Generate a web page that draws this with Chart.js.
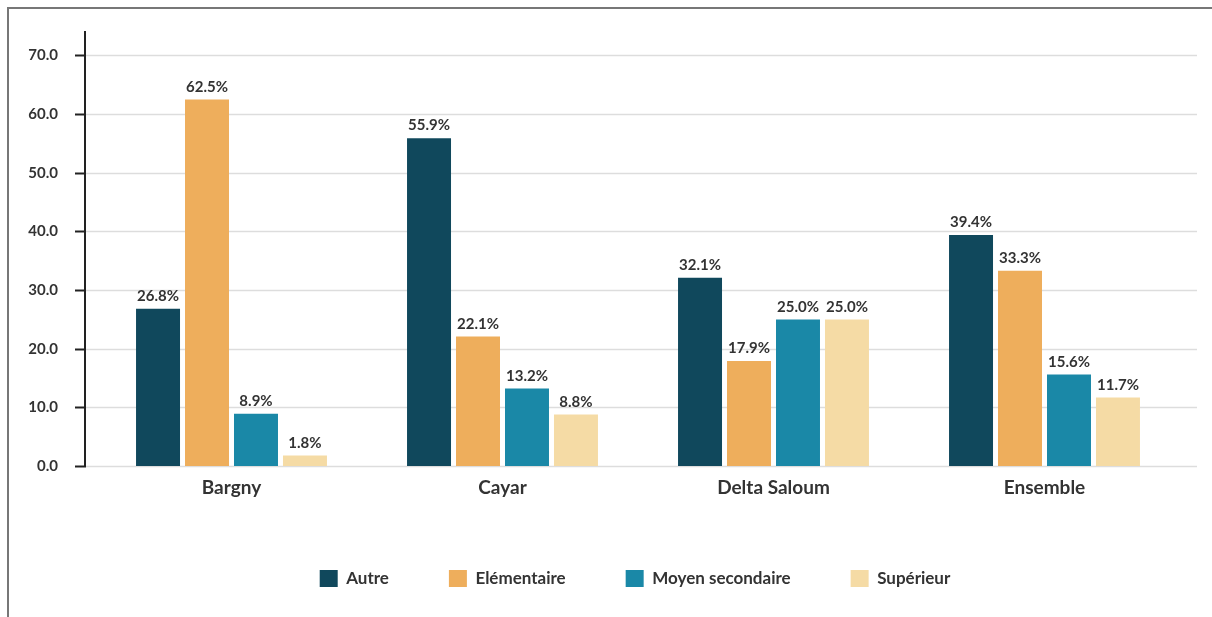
<!DOCTYPE html>
<html>
<head>
<meta charset="utf-8">
<script src="https://cdn.jsdelivr.net/npm/chart.js@4"></script>
<style>
  html, body { margin: 0; padding: 0; background: #fff; }
  #wrap { position: relative; width: 1212px; height: 617px; overflow: hidden; }
  #frame { position: absolute; left: 7px; top: 7px; width: 1300px; height: 700px;
           border-left: 2px solid #777; border-top: 2px solid #777; }
  canvas { position: absolute; left: 0; top: 0; }
</style>
</head>
<body>
<div id="wrap">
  <div id="frame"></div>
  <canvas id="chart" width="1212" height="617"></canvas>
</div>
<script>
const categories = ['Bargny', 'Cayar', 'Delta Saloum', 'Ensemble'];
const seriesNames = ['Autre', 'Elémentaire', 'Moyen secondaire', 'Supérieur'];
const autre = [26.8, 55.9, 32.1, 39.4];
const elementaire = [62.5, 22.1, 17.9, 33.3];
const moyenSecondaire = [8.9, 13.2, 25.0, 15.6];
const superieur = [1.8, 8.8, 25.0, 11.7];
const yTicks = [0, 10, 20, 30, 40, 50, 60, 70];
const colors = ['#10485c', '#eeae5c', '#1a88a7', '#f5dba5'];

const FONT = 'Lato, "Noto Sans", sans-serif';
const TEXT = '#333333';

// grille, axe Y et graduations dessinés à partir de l'échelle
const axisPlugin = {
  id: 'axisPlugin',
  beforeDatasetsDraw(chart) {
    const ctx = chart.ctx;
    const y = chart.scales.y;
    const area = chart.chartArea;
    ctx.save();
    ctx.strokeStyle = '#dddddd';
    ctx.lineWidth = 1.5;
    yTicks.forEach(v => {
      const py = Math.round(y.getPixelForValue(v)) + 0.5;
      ctx.beginPath();
      ctx.moveTo(86, py);
      ctx.lineTo(1197, py);
      ctx.stroke();
    });
    ctx.strokeStyle = '#222222';
    ctx.lineWidth = 2;
    ctx.beginPath();
    ctx.moveTo(85, area.top - 1);
    ctx.lineTo(85, area.bottom + 1);
    ctx.stroke();
    yTicks.forEach(v => {
      const py = Math.round(y.getPixelForValue(v)) + 0.5;
      ctx.beginPath();
      ctx.moveTo(75, py);
      ctx.lineTo(86, py);
      ctx.stroke();
    });
    ctx.restore();
  }
};

// étiquettes de valeur au-dessus des barres
const valueLabels = {
  id: 'valueLabels',
  afterDatasetsDraw(chart) {
    const ctx = chart.ctx;
    ctx.save();
    ctx.font = 'bold 15px ' + FONT;
    ctx.fillStyle = TEXT;
    ctx.textAlign = 'center';
    ctx.textBaseline = 'bottom';
    chart.data.datasets.forEach((ds, i) => {
      chart.getDatasetMeta(i).data.forEach((bar, j) => {
        ctx.fillText(ds.data[j].toFixed(1) + '%', bar.x, bar.y - 5);
      });
    });
    ctx.restore();
  }
};

// la légende est un peu décalée vers la droite
const legendShift = {
  id: 'legendShift',
  afterLayout(chart) {
    chart.legend.left += 45;
    chart.legend.right += 45;
  }
};

const seriesData = [autre, elementaire, moyenSecondaire, superieur];

new Chart(document.getElementById('chart'), {
  type: 'bar',
  data: {
    labels: categories,
    datasets: seriesNames.map((name, i) => ({
      label: name,
      data: seriesData[i],
      backgroundColor: colors[i],
      categoryPercentage: 0.723,
      barPercentage: 0.898
    }))
  },
  options: {
    responsive: false,
    animation: false,
    layout: { padding: { top: 32, right: 32, bottom: 20, left: 0 } },
    scales: {
      x: {
        grid: { display: false, drawTicks: false },
        border: { display: false },
        ticks: { color: TEXT, font: { family: FONT, size: 19, weight: 'bold' }, padding: 10 },
        afterFit(scale) { scale.height = 44; }
      },
      y: {
        min: 0,
        max: 74,
        grid: { display: false, drawTicks: false },
        border: { display: false },
        ticks: {
          stepSize: 10,
          color: TEXT,
          font: { family: FONT, size: 15, weight: 'bold' },
          padding: 38,
          callback: v => v.toFixed(1)
        },
        afterBuildTicks(scale) {
          scale.ticks = yTicks.map(v => ({ value: v }));
        },
        afterFit(scale) {
          scale.width = 96;
          scale.paddingTop = 0;
          scale.paddingBottom = 0;
        }
      }
    },
    plugins: {
      legend: {
        position: 'bottom',
        labels: {
          color: TEXT,
          font: { family: FONT, size: 17, weight: 'bold' },
          boxWidth: 18,
          boxHeight: 17,
          padding: 60
        }
      },
      tooltip: { enabled: false }
    }
  },
  plugins: [axisPlugin, valueLabels, legendShift]
});
</script>
</body>
</html>
